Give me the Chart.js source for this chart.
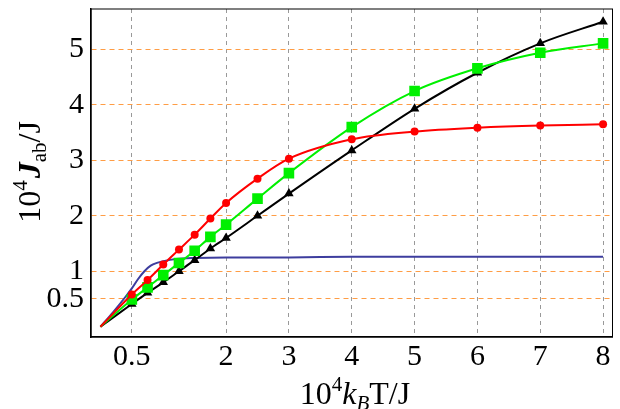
<!DOCTYPE html>
<html>
<head>
<meta charset="utf-8">
<script src="https://cdn.jsdelivr.net/npm/chart.js@4.4.0/dist/chart.umd.min.js"></script>
<style>
  html, body { margin: 0; padding: 0; background: #fff; }
  #wrap { width: 620px; height: 409px; }
</style>
</head>
<body>
<div id="wrap"><canvas id="chart"></canvas></div>
<script>
    /* data */
    const markerX = [0, 0.5, 0.75, 1, 1.25, 1.5, 1.75, 2, 2.5, 3, 4, 5, 6, 7, 8];
    const redY   = [0, 0.58, 0.84, 1.12, 1.39, 1.66, 1.95, 2.23, 2.67, 3.03, 3.38, 3.52, 3.59, 3.63, 3.65];
    const greenY = [0, 0.49, 0.71, 0.93, 1.15, 1.37, 1.62, 1.84, 2.31, 2.77, 3.60, 4.25, 4.66, 4.94, 5.11];
    const blackY = [0, 0.41, 0.61, 0.80, 1.00, 1.20, 1.41, 1.60, 2.00, 2.40, 3.18, 3.93, 4.58, 5.11, 5.50];

    const blueX = [0, 0.2, 0.4, 0.5, 0.6, 0.7, 0.8, 0.9, 1.0, 1.2, 1.5, 2, 3, 4, 5, 6, 7, 8];
    const blueY = [0, 0.26, 0.54, 0.69, 0.86, 1.0, 1.1, 1.15, 1.18, 1.22, 1.24, 1.25, 1.25, 1.26, 1.26, 1.26, 1.26, 1.26];

    const xTicks = [0.5, 2, 3, 4, 5, 6, 7, 8];
    const yTicks = [0.5, 1, 2, 3, 4, 5];

    const pts = (xs, ys) => xs.map((x, i) => ({ x: x, y: ys[i] }));
    const SERIF = '"Times New Roman", "Liberation Serif", Times, serif';

    function markerSeries(ys, color, style, r) {
        return {
            data: pts(markerX, ys),
            borderColor: color,
            backgroundColor: color,
            borderWidth: 2,
            pointStyle: style,
            pointRadius: c => c.dataIndex === 0 ? 0 : r,
            pointBorderWidth: 0,
            cubicInterpolationMode: 'monotone',
            fill: false
        };
    }

    // axis titles with super/subscripts, drawn by hand
    function richText(ctx, parts, x, y) {
        let w = 0;
        parts.forEach(p => { ctx.font = p.f; w += ctx.measureText(p.t).width + (p.gap || 0); });
        let cx = x - w / 2;
        parts.forEach(p => {
            ctx.font = p.f;
            ctx.fillText(p.t, cx, y + (p.dy || 0));
            cx += ctx.measureText(p.t).width + (p.gap || 0);
        });
    }

    const frameAndTitles = {
        id: 'frameAndTitles',
        afterDraw(chart) {
            const ctx = chart.ctx;
            const a = chart.chartArea;
            ctx.save();
            ctx.strokeStyle = '#000';
            ctx.lineWidth = 1;
            ctx.strokeRect(a.left, a.top, a.right - a.left, a.bottom - a.top);

            ctx.fillStyle = '#000';
            ctx.textBaseline = 'alphabetic';
            richText(ctx, [
                { t: '10', f: '32px ' + SERIF },
                { t: '4', f: '21px ' + SERIF, dy: -13 },
                { t: 'k', f: 'italic 32px ' + SERIF },
                { t: 'B', f: 'italic 21px ' + SERIF, dy: 6 },
                { t: 'T/J', f: '32px ' + SERIF }
            ], 355, 404);

            ctx.translate(40, 172);
            ctx.rotate(-Math.PI / 2);
            richText(ctx, [
                { t: '10', f: '32px ' + SERIF },
                { t: '4', f: '21px ' + SERIF, dy: -13, gap: 2 },
                { t: 'J', f: 'italic bold 32px ' + SERIF },
                { t: 'ab', f: '21px ' + SERIF, dy: 6 },
                { t: '/J', f: '32px ' + SERIF }
            ], 0, 0);
            ctx.restore();
        }
    };

    new Chart(document.getElementById('chart'), {
        type: 'line',
        data: {
            datasets: [
                markerSeries(redY, '#ff0000', 'circle', 4),
                markerSeries(greenY, '#00f000', 'rect', 7.5),
                markerSeries(blackY, '#000000', 'triangle', 5.5),
                {
                    data: pts(blueX, blueY),
                    borderColor: '#3d3d9e',
                    borderWidth: 2,
                    pointRadius: 0,
                    cubicInterpolationMode: 'monotone',
                    fill: false
                }
            ]
        },
        options: {
            responsive: true,
            maintainAspectRatio: false,
            animation: false,
            layout: { padding: { top: 9, right: 1, left: 0, bottom: 0 } },
            plugins: { legend: { display: false }, tooltip: { enabled: false } },
            scales: {
                x: {
                    type: 'linear',
                    min: -0.15, max: 8.15,
                    afterBuildTicks: s => { s.ticks = xTicks.map(v => ({ value: v })); },
                    afterFit: s => { s.height = 72; s.paddingLeft = 0; s.paddingRight = 0; },
                    ticks: {
                        autoSkip: false, maxRotation: 0, padding: 2,
                        color: '#000',
                        font: { family: SERIF, size: 30 },
                        callback: v => String(v)
                    },
                    grid: { color: '#999', lineWidth: 1, drawTicks: false },
                    border: { color: '#000', width: 1.5, dash: [4, 4] }
                },
                y: {
                    min: -0.186, max: 5.73,
                    afterBuildTicks: s => { s.ticks = yTicks.map(v => ({ value: v })); },
                    afterFit: s => { s.width = 91; s.paddingTop = 0; s.paddingBottom = 0; },
                    ticks: {
                        autoSkip: false, padding: 7,
                        color: '#000',
                        font: { family: SERIF, size: 30 },
                        callback: v => String(v)
                    },
                    grid: { color: '#ff9d45', lineWidth: 1, drawTicks: false },
                    border: { color: '#000', width: 1.5, dash: [5, 4] }
                }
            }
        },
        plugins: [frameAndTitles]
    });
</script>
</body>
</html>
